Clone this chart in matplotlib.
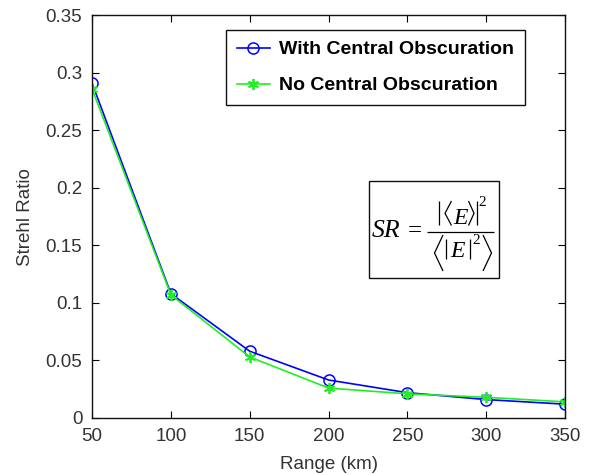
import matplotlib
matplotlib.use("Agg")
import matplotlib.pyplot as plt
from matplotlib.lines import Line2D

# Strehl ratio versus propagation range
range_km = [50, 100, 150, 200, 250, 300, 350]
sr_with_obsc = [0.291, 0.108, 0.058, 0.033, 0.022, 0.016, 0.012]
sr_no_obsc = [0.286, 0.107, 0.053, 0.026, 0.021, 0.018, 0.014]
xticks = [50, 100, 150, 200, 250, 300, 350]
yticks = [0, 0.05, 0.1, 0.15, 0.2, 0.25, 0.3, 0.35]
ytick_labels = ["0", "0.05", "0.1", "0.15", "0.2", "0.25", "0.3", "0.35"]

plt.rcParams["font.family"] = ["Liberation Sans", "DejaVu Sans"]

W, H = 590, 475
fig = plt.figure(figsize=(W / 100, H / 100), dpi=100)
ax = fig.add_axes([0.156, 0.12, 0.802, 0.848])

ax.plot(range_km, sr_with_obsc, color="#0000ff", lw=1.2, marker="o",
        ms=8, mfc="none", mec="#0000ff", mew=1.1,
        label="With Central Obscuration")
ax.plot(range_km, sr_no_obsc, color="#22ee22", lw=1.2, marker=(6, 2, 0),
        ms=8, mfc="#22ee22", mec="#22ee22", mew=1.3,
        label="No Central Obscuration")

ax.set_xlim(50, 350)
ax.set_ylim(0, 0.35)
ax.set_xticks(xticks)
ax.set_yticks(yticks)
ax.set_yticklabels(ytick_labels)
ax.tick_params(direction="in", top=True, right=True, length=5,
               labelsize=13.5, labelcolor="#333333")
ax.tick_params(axis="x", pad=7)
ax.tick_params(axis="y", pad=7)
for s in ax.spines.values():
    s.set_linewidth(1.0)
    s.set_color("#111111")

ax.set_xlabel("Range (km)", fontsize=13.5, color="#333333", labelpad=8)
ax.set_ylabel("Strehl Ratio", fontsize=13.5, color="#333333", labelpad=8)

leg = ax.legend(loc="upper right", bbox_to_anchor=(0.915, 0.963),
                prop={"weight": "bold", "size": 14}, fancybox=False,
                framealpha=1, edgecolor="#111111", handlelength=1.7,
                handletextpad=0.5, borderpad=0.55, labelspacing=0.95,
                borderaxespad=0)
leg.get_frame().set_linewidth(1.0)


# Strehl ratio definition, typeset piece by piece so the delimiters
# can be sized freely
def px(x, y):
    return x / W, 1 - y / H


def stroke(points, lw=0.9):
    xs, ys = zip(*[px(x, y) for x, y in points])
    fig.add_artist(Line2D(xs, ys, lw=lw, color="black", zorder=7,
                          solid_capstyle="butt", solid_joinstyle="miter"))


serif = ["Liberation Serif", "DejaVu Serif"]
box = plt.Rectangle(px(369, 277.5), 130 / W, 96 / H, transform=fig.transFigure,
                    fc="white", ec="#111111", lw=1.0, zorder=5)
fig.add_artist(box)

fig.text(*px(371.5, 237), "SR", family=serif, style="italic", size=18.5,
         va="baseline", ha="left", zorder=6)
fig.text(*px(415, 229), "=", family=serif, size=18, va="center_baseline",
         ha="center", zorder=6)
stroke([(427, 231.5), (493.5, 231.5)])

# numerator |<E>|^2
stroke([(438.5, 201), (438.5, 225.5)])
stroke([(451.5, 201), (445, 213.3), (451.5, 225.5)])
fig.text(*px(460.5, 223.5), "E", family=serif, style="italic", size=17,
         va="baseline", ha="center", zorder=6)
stroke([(468.5, 201), (474, 213.3), (468.5, 225.5)])
stroke([(476.5, 201), (476.5, 225.5)])
fig.text(*px(478.5, 205.5), "2", family=serif, size=11, va="baseline",
         ha="left", zorder=6)

# denominator <|E|^2>
stroke([(443, 235), (434.5, 253), (443, 271)])
stroke([(446, 239.5), (446, 259)])
fig.text(*px(457.5, 257), "E", family=serif, style="italic", size=17,
         va="baseline", ha="center", zorder=6)
stroke([(470, 239.5), (470, 259)])
fig.text(*px(472, 244), "2", family=serif, size=11, va="baseline",
         ha="left", zorder=6)
stroke([(483, 235), (491.5, 253), (483, 271)])

fig.savefig("out.png", dpi=100)
